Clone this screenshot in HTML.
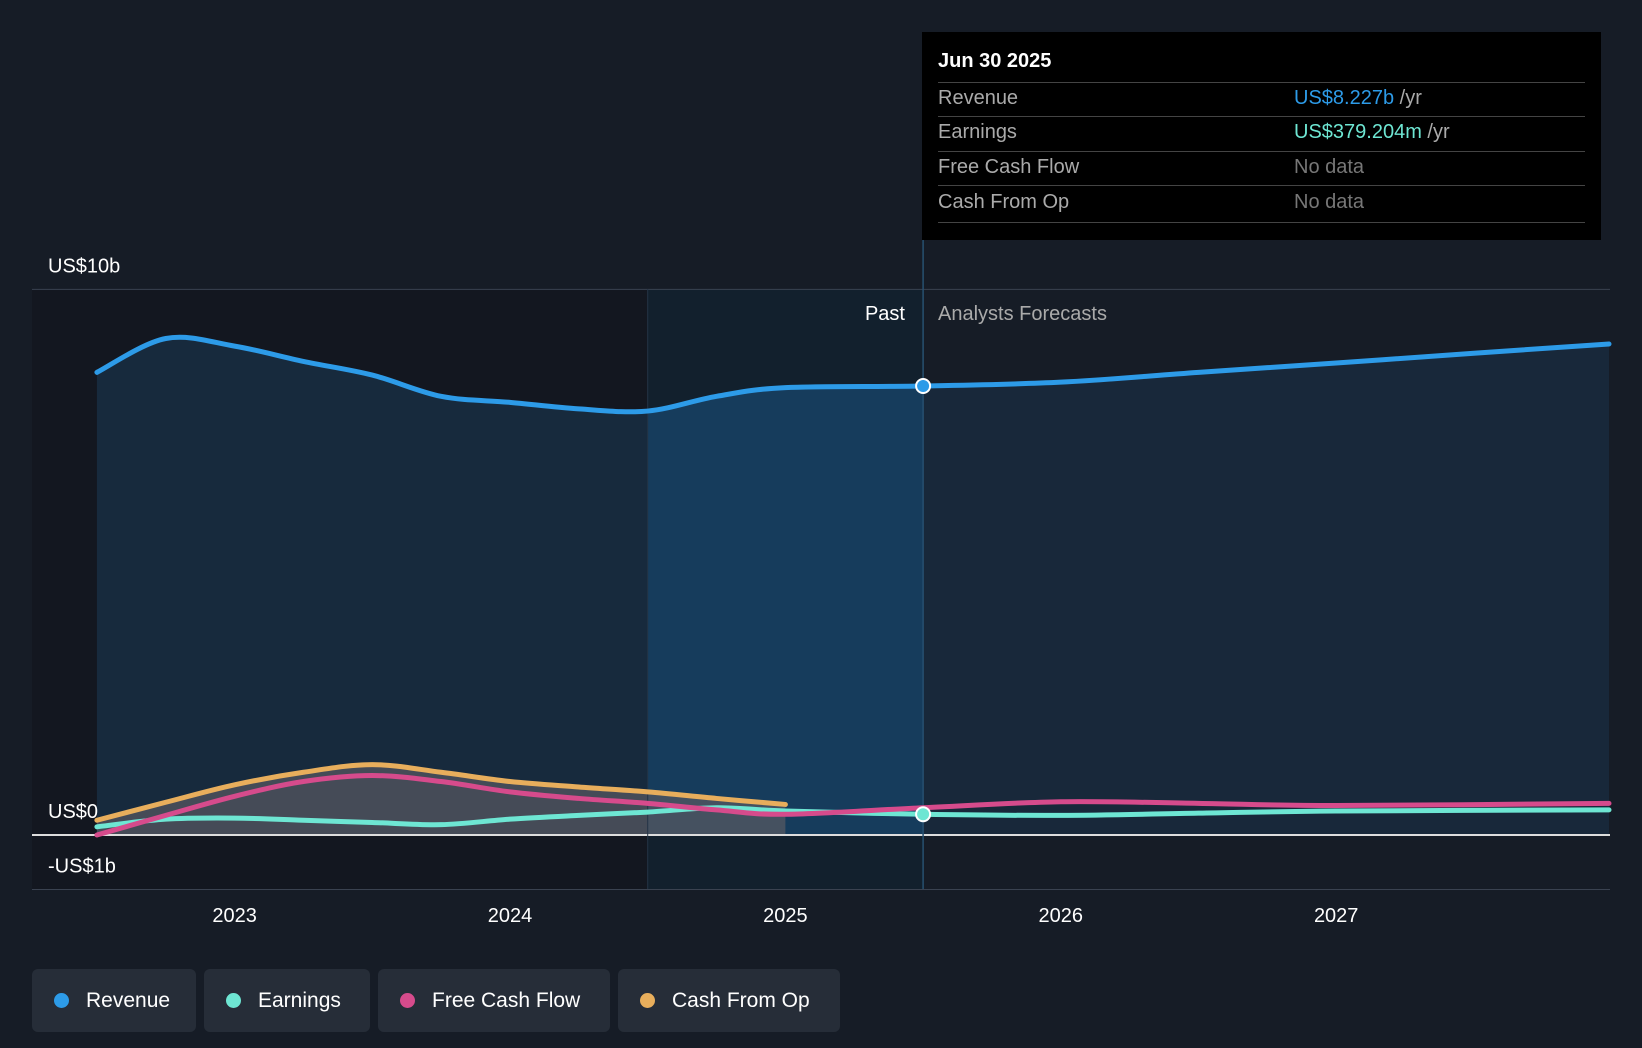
<!DOCTYPE html>
<html><head><meta charset="utf-8"><style>
body{margin:0;width:1642px;height:1048px;background:#161c26;font-family:"Liberation Sans",sans-serif;overflow:hidden;position:relative}
.leg{position:absolute;top:969px;height:63px;background:#262d38;border-radius:6px;color:#fff;font-size:21px;display:flex;align-items:center;box-sizing:border-box;padding-left:22px}
.leg i{width:15px;height:15px;border-radius:50%;display:inline-block;margin-right:17px}
</style></head><body>
<svg id="chart" width="1642" height="1048" style="position:absolute;left:0;top:0"></svg>
<div style="position:absolute;left:922px;top:32px;width:679px;height:208px;background:#000;color:#fff;font-size:20px">
<div style="position:absolute;left:16px;top:18px;font-weight:bold">Jun 30 2025</div>
<div style="position:absolute;left:16px;right:16px;top:50px;border-top:1px solid #444"></div>
<div style="position:absolute;left:16px;right:16px;top:84px;border-top:1px solid #444"></div>
<div style="position:absolute;left:16px;right:16px;top:119px;border-top:1px solid #444"></div>
<div style="position:absolute;left:16px;right:16px;top:153px;border-top:1px solid #444"></div>
<div style="position:absolute;left:16px;right:16px;top:190px;border-top:1px solid #444"></div>
<div style="position:absolute;left:16px;top:55px;color:#aaa">Revenue</div><div style="position:absolute;left:372px;top:55px;color:#2d9be8">US$8.227b <span style="color:#aaa">/yr</span></div>
<div style="position:absolute;left:16px;top:89px;color:#aaa">Earnings</div><div style="position:absolute;left:372px;top:89px;color:#6ee6d3">US$379.204m <span style="color:#aaa">/yr</span></div>
<div style="position:absolute;left:16px;top:124px;color:#aaa">Free Cash Flow</div><div style="position:absolute;left:372px;top:124px;color:#777">No data</div>
<div style="position:absolute;left:16px;top:159px;color:#aaa">Cash From Op</div><div style="position:absolute;left:372px;top:159px;color:#777">No data</div>
</div>
<div class="leg" style="left:32px;width:164px"><i style="background:#2d9be8"></i>Revenue</div>
<div class="leg" style="left:204px;width:166px"><i style="background:#6ee6d3"></i>Earnings</div>
<div class="leg" style="left:378px;width:232px"><i style="background:#d64b8c"></i>Free Cash Flow</div>
<div class="leg" style="left:618px;width:222px"><i style="background:#e8ae5c"></i>Cash From Op</div>
<script>
const revT=[2022.5,2022.75,2023,2023.25,2023.5,2023.75,2024,2024.25,2024.5,2024.75,2025,2025.5,2026,2026.5,2027,2027.5,2028];
const revV=[8.48,9.1,8.96,8.68,8.43,8.04,7.93,7.81,7.77,8.04,8.2,8.23,8.3,8.48,8.65,8.83,9.0];
const earnT=[2022.5,2022.75,2023,2023.25,2023.5,2023.75,2024,2024.25,2024.5,2024.75,2025,2025.5,2026,2026.5,2027,2028];
const earnV=[0.15,0.29,0.31,0.27,0.23,0.19,0.29,0.36,0.42,0.5,0.44,0.38,0.36,0.4,0.44,0.46];
const fcfT=[2022.5,2022.75,2023,2023.25,2023.5,2023.75,2024,2024.25,2024.5,2024.75,2025,2025.5,2026,2026.5,2027,2028];
const fcfV=[0,0.36,0.71,0.98,1.09,0.98,0.79,0.67,0.58,0.46,0.38,0.5,0.61,0.58,0.54,0.58];
const cfoT=[2022.5,2022.75,2023,2023.25,2023.5,2023.75,2024,2024.25,2024.5,2024.75,2025];
const cfoV=[0.27,0.6,0.92,1.15,1.29,1.15,0.98,0.88,0.79,0.67,0.56];
const yTicks=[10,0,-1];const yLabels=["US$10b","US$0","-US$1b"];
const xTicks=[2023,2024,2025,2026,2027];
const X=t=>234.6+(t-2023)*275.4, Y=v=>835-v*54.56;
const svg=document.getElementById('chart');const NS='http://www.w3.org/2000/svg';
function el(tag,a,parent){const e=document.createElementNS(NS,tag);for(const k in a)e.setAttribute(k,a[k]);(parent||svg).appendChild(e);return e;}
function path(T,V){const p=T.map((t,i)=>[Math.min(X(t),1609),Y(V[i])]);let d='M'+p[0][0]+','+p[0][1];
for(let i=0;i<p.length-1;i++){const p0=p[i-1]||p[i],p1=p[i],p2=p[i+1],p3=p[i+2]||p2;
d+=` C${p1[0]+(p2[0]-p0[0])/6},${p1[1]+(p2[1]-p0[1])/6} ${p2[0]-(p3[0]-p1[0])/6},${p2[1]-(p3[1]-p1[1])/6} ${p2[0]},${p2[1]}`;}return d;}
const x0=X(2022.5),xP=X(2024.5),xN=X(2025.5),xE=1610;
let r=el('rect',{x:32,y:289,width:xP-32,height:600,fill:'#131720'});
r=el('rect',{x:xP,y:289,width:xN-xP,height:600,fill:'#12202d'});
const clip=el('clipPath',{id:'c1'});el('rect',{x:xP,y:0,width:xN-xP,height:1048},clip);
const clip2=el('clipPath',{id:'c2'});el('rect',{x:0,y:0,width:xP,height:1048},clip2);
const clip3=el('clipPath',{id:'c3'});el('rect',{x:xN,y:0,width:2000,height:1048},clip3);
const rp=path(revT,revV);const area=rp+` L1609,${Y(0)} L${x0},${Y(0)} Z`;
let a=el('path',{d:area,fill:'#172a3d','clip-path':'url(#c2)'});
a=el('path',{d:area,fill:'#163c5c','clip-path':'url(#c1)'});
a=el('path',{d:area,fill:'#18283a','clip-path':'url(#c3)'});
const ca=path(cfoT,cfoV)+` L${X(2025)},${Y(0)} L${x0},${Y(0)} Z`;
a=el('path',{d:ca,fill:'#5a5a62',opacity:0.7});
yTicks.forEach((v,i)=>{let l=el('line',{x1:32,x2:xE,y1:Y(v),y2:Y(v),stroke:v==0?'#ddd':'#3a4250','stroke-width':v==0?2:1});
let t=el('text',{x:48,y:Y(v)-17,fill:'#fff','font-size':20});t.textContent=yLabels[i];});
let v=el('line',{x1:xP,x2:xP,y1:289,y2:889,stroke:'#233446'});
v=el('line',{x1:xN,x2:xN,y1:240,y2:889,stroke:'#275070','stroke-width':1.5});
xTicks.forEach(y=>{let t=el('text',{x:X(y),y:922,fill:'#fff','font-size':20,'text-anchor':'middle'});t.textContent=y;});
let t=el('text',{x:905,y:320,fill:'#fff','font-size':20,'text-anchor':'end'});t.textContent='Past';
t=el('text',{x:938,y:320,fill:'#aaa','font-size':20});t.textContent='Analysts Forecasts';
const lines=[[earnT,earnV,'#6ee6d3','earnings-line'],[fcfT,fcfV,'#d64b8c','free-cash-flow-line'],[cfoT,cfoV,'#e8ae5c','cash-from-op-line'],[revT,revV,'#2d9be8','revenue-line']];
lines.forEach(([T,V,c,n])=>{const p=el('path',{d:path(T,V),fill:'none',stroke:c,'stroke-width':5,'stroke-linecap':'round'});});
let d=el('circle',{cx:xN,cy:Y(revV[11]),r:7,fill:'#2d9be8',stroke:'#fff','stroke-width':2});
d=el('circle',{cx:xN,cy:Y(earnV[11]),r:7,fill:'#6ee6d3',stroke:'#fff','stroke-width':2});
</script>
</body></html>
